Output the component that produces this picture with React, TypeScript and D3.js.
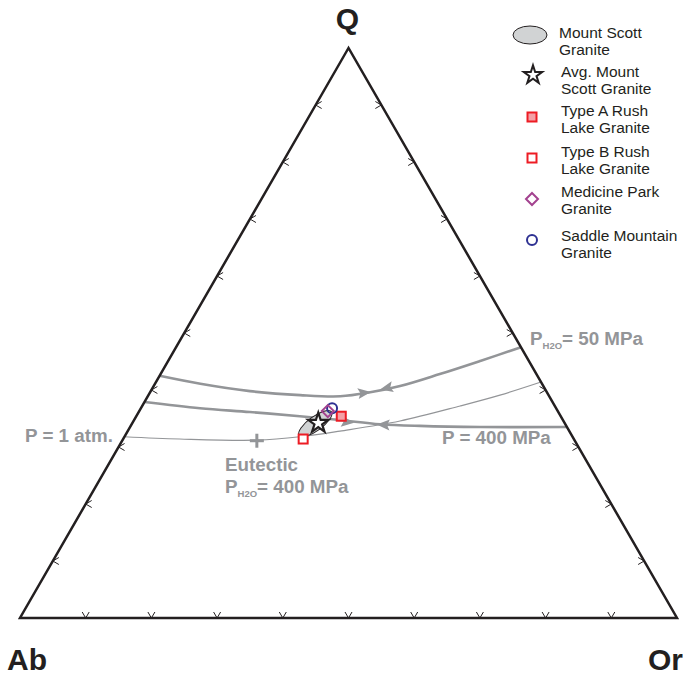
import React from 'react';
import * as d3 from 'd3';

// Ternary compositions as [Q, Ab, Or] in percent
type T = [number, number, number];

const vertexLabels = ['Q', 'Ab', 'Or'];
const tickSteps = [10, 20, 30, 40, 50, 60, 70, 80, 90];

const cotectic50MPa: T[] = [
  [42.5, 57.5, 0], [41.1, 52.0, 6.9], [39.8, 45.1, 15.1], [39.1, 37.8, 23.1],
  [38.9, 31.8, 29.3], [39.6, 26.9, 33.5], [40.7, 21.8, 37.5], [42.8, 14.7, 42.5],
  [45.1, 7.4, 47.5], [47.5, 0, 52.5],
];
const cotectic400MPa: T[] = [
  [37.9, 62.1, 0], [36.8, 54.2, 9.0], [36.1, 46.9, 16.9], [35.4, 39.7, 24.9],
  [34.7, 33.9, 31.3], [34.0, 28.2, 37.8], [33.7, 22.3, 44.0], [33.5, 13.2, 53.3],
  [33.5, 0, 66.5],
];
const cotectic1atm: T[] = [
  [31.8, 68.2, 0], [31.4, 60.0, 8.6], [31.2, 48.3, 20.5], [31.8, 41.5, 26.7],
  [32.8, 34.9, 32.3], [34.6, 24.9, 40.6], [37.2, 14.4, 48.4], [39.1, 7.4, 53.5],
  [41.4, 0, 58.6],
];

const arrows50Pos: T[] = [[39.5, 27.9, 32.6], [40.4, 24.0, 35.7]];
const arrows50Dir = [1, -1];
const arrows400Pos: T[] = [[34.4, 33.0, 32.6], [33.9, 27.7, 38.4]];
const arrows400Dir = [1, -1];

const eutectic400: T = [31.1, 48.4, 20.5];

const mountScottField: T = [34.1, 38.0, 27.9];
const avgMountScott: T[] = [[34.2, 37.5, 28.3]];
const typeARushLake: T[] = [[35.4, 33.4, 31.2]];
const typeBRushLake: T[] = [[31.4, 41.2, 27.4]];
const medicinePark: T[] = [[36.3, 35.0, 28.7]];
const saddleMountain: T[] = [[36.8, 34.1, 29.1]];

const legendLabels = [
  ['Mount Scott', 'Granite'],
  ['Avg. Mount', 'Scott Granite'],
  ['Type A Rush', 'Lake Granite'],
  ['Type B Rush', 'Lake Granite'],
  ['Medicine Park', 'Granite'],
  ['Saddle Mountain', 'Granite'],
];

const FONT = '"Liberation Sans", Arial, Helvetica, sans-serif';
const GREY = '#939598';
const INK = '#231f20';
const RED = '#ed1c24';
const PINK = '#f4a0a6';
const PURPLE = '#a3428f';
const BLUE = '#2e3192';

const sx = d3.scaleLinear().domain([0, 1]).range([20, 677]);
const sy = d3.scaleLinear().domain([0, 1]).range([618, 48]);

function proj(t: T): [number, number] {
  const s = t[0] + t[1] + t[2];
  const q = t[0] / s;
  const or = t[2] / s;
  return [sx(or + q / 2), sy(q)];
}

const line = d3
  .line<T>()
  .x((d) => proj(d)[0])
  .y((d) => proj(d)[1])
  .curve(d3.curveCatmullRom.alpha(0.5));

function arrowAngle(curve: T[], p: T, dir: number): number {
  const pts = curve.map(proj);
  const [x] = proj(p);
  let ang = 0;
  for (let i = 0; i < pts.length - 1; i++) {
    if (x >= pts[i][0] && x <= pts[i + 1][0]) {
      ang = Math.atan2(pts[i + 1][1] - pts[i][1], pts[i + 1][0] - pts[i][0]);
    }
  }
  return (ang * 180) / Math.PI + (dir < 0 ? 180 : 0);
}

const starPlot = d3.symbol().type(d3.symbolStar).size(125)() as string;
const starLegend = d3.symbol().type(d3.symbolStar).size(105)() as string;

function Arrow({ curve, p, dir }: { curve: T[]; p: T; dir: number }) {
  const [x, y] = proj(p);
  const a = arrowAngle(curve, p, dir);
  return (
    <path
      d="M7,0 L-6,-5.5 L-3.5,0 L-6,5.5 Z"
      fill={GREY}
      transform={`translate(${x},${y}) rotate(${a})`}
    />
  );
}

function Square({ p, fill }: { p: T; fill: string }) {
  const [x, y] = proj(p);
  return <rect x={x - 4.5} y={y - 4.5} width={9} height={9} fill={fill} stroke={RED} strokeWidth={2} />;
}

export default function App() {
  const A = proj([100, 0, 0]);
  const B = proj([0, 100, 0]);
  const C = proj([0, 0, 100]);

  const ticks: JSX.Element[] = [];
  tickSteps.forEach((k) => {
    const [bx, by] = proj([0, 100 - k, k]);
    ticks.push(<path key={'b' + k} d={`M${bx - 3.5},${by - 6}L${bx},${by}L${bx + 3.5},${by - 6}`} />);
    const [lx, ly] = proj([k, 100 - k, 0]);
    ticks.push(<path key={'l' + k} d={`M${lx + 6},${ly - 3.5}L${lx},${ly}L${lx + 6},${ly + 3.5}`} />);
    const [rx, ry] = proj([k, 0, 100 - k]);
    ticks.push(<path key={'r' + k} d={`M${rx - 6},${ry - 3.5}L${rx},${ry}L${rx - 6},${ry + 3.5}`} />);
  });

  const [ex, ey] = proj(mountScottField);
  const [px, py] = proj(eutectic400);

  const legendY = [35, 75, 117, 158, 199, 240];
  const legendTextY = [38, 77, 116, 157, 197, 241];
  const legendX = 532;

  return (
    <svg
      width={683}
      height={676}
      style={{ position: 'absolute', left: 0, top: 0, background: '#fff' }}
      fontFamily={FONT}
    >
      {/* cotectic curves */}
      <path d={line(cotectic1atm) || ''} fill="none" stroke={GREY} strokeWidth={1.2} />
      <path d={line(cotectic50MPa) || ''} fill="none" stroke={GREY} strokeWidth={2.6} />
      <path d={line(cotectic400MPa) || ''} fill="none" stroke={GREY} strokeWidth={2.6} />
      {arrows50Pos.map((p, i) => (
        <Arrow key={'a50' + i} curve={cotectic50MPa} p={p} dir={arrows50Dir[i]} />
      ))}
      {arrows400Pos.map((p, i) => (
        <Arrow key={'a400' + i} curve={cotectic400MPa} p={p} dir={arrows400Dir[i]} />
      ))}

      {/* triangle */}
      <path
        d={`M${A[0]},${A[1]}L${B[0]},${B[1]}L${C[0]},${C[1]}Z`}
        fill="none"
        stroke={INK}
        strokeWidth={2.5}
      />
      <g stroke={INK} strokeWidth={1} fill="none">
        {ticks}
      </g>

      {/* eutectic */}
      <g stroke={GREY} strokeWidth={3}>
        <line x1={px - 7} x2={px + 7} y1={py} y2={py} />
        <line x1={px} x2={px} y1={py - 7} y2={py + 7} />
      </g>

      {/* data */}
      <ellipse
        cx={ex}
        cy={ey}
        rx={20}
        ry={7}
        fill="#d1d3d4"
        stroke={INK}
        strokeWidth={1}
        transform={`rotate(-36 ${ex} ${ey})`}
      />
      {typeBRushLake.map((p, i) => (
        <Square key={'tb' + i} p={p} fill="#fff" />
      ))}
      {avgMountScott.map((p, i) => {
        const [x, y] = proj(p);
        return (
          <path key={'st' + i} d={starPlot} transform={`translate(${x},${y})`} fill="#fff" stroke={INK} strokeWidth={2.2} />
        );
      })}
      {typeARushLake.map((p, i) => (
        <Square key={'ta' + i} p={p} fill={PINK} />
      ))}
      {saddleMountain.map((p, i) => {
        const [x, y] = proj(p);
        return <circle key={'sm' + i} cx={x} cy={y} r={5} fill="none" stroke={BLUE} strokeWidth={2} />;
      })}
      {medicinePark.map((p, i) => {
        const [x, y] = proj(p);
        return (
          <path key={'mp' + i} d={`M${x},${y - 6}L${x + 6},${y}L${x},${y + 6}L${x - 6},${y}Z`} fill="none" stroke={PURPLE} strokeWidth={2} />
        );
      })}

      {/* grey labels */}
      <g fill={GREY} fontWeight="bold" fontSize={18.8}>
        <text x={25} y={442}>P = 1 atm.</text>
        <text x={442} y={444}>P = 400 MPa</text>
        <text x={530} y={345}>
          P<tspan fontSize={9.5} dy={4}>H2O</tspan>
          <tspan dy={-4}>= 50 MPa</tspan>
        </text>
        <text x={225} y={471}>Eutectic</text>
        <text x={225} y={493}>
          P<tspan fontSize={9.5} dy={4}>H2O</tspan>
          <tspan dy={-4}>= 400 MPa</tspan>
        </text>
      </g>

      {/* vertex labels */}
      <g fill={INK} fontWeight="bold" fontSize={30}>
        <text x={A[0] - 1} y={29} textAnchor="middle">{vertexLabels[0]}</text>
        <text x={7} y={670}>{vertexLabels[1]}</text>
        <text x={683} y={670} textAnchor="end">{vertexLabels[2]}</text>
      </g>

      {/* legend */}
      <g>
        <ellipse cx={530} cy={legendY[0]} rx={17} ry={9} fill="#d1d3d4" stroke={INK} strokeWidth={1} />
        <path d={starLegend} transform={`translate(${legendX + 1},${legendY[1]})`} fill="#fff" stroke={INK} strokeWidth={2} />
        <rect x={legendX - 4.5} y={legendY[2] - 4.5} width={9} height={9} fill={PINK} stroke={RED} strokeWidth={2} />
        <rect x={legendX - 4.5} y={legendY[3] - 4.5} width={9} height={9} fill="#fff" stroke={RED} strokeWidth={2} />
        <path
          d={`M${legendX},${legendY[4] - 6}L${legendX + 6},${legendY[4]}L${legendX},${legendY[4] + 6}L${legendX - 6},${legendY[4]}Z`}
          fill="none"
          stroke={PURPLE}
          strokeWidth={2}
        />
        <circle cx={legendX} cy={legendY[5]} r={5} fill="none" stroke={BLUE} strokeWidth={2} />
        <g fill={INK} fontSize={15.5}>
          {legendLabels.map((lines, i) => (
            <text key={'lg' + i} x={i === 0 ? 559 : 561} y={legendTextY[i]}>
              <tspan x={i === 0 ? 559 : 561}>{lines[0]}</tspan>
              <tspan x={i === 0 ? 559 : 561} dy={17}>{lines[1]}</tspan>
            </text>
          ))}
        </g>
      </g>
    </svg>
  );
}
